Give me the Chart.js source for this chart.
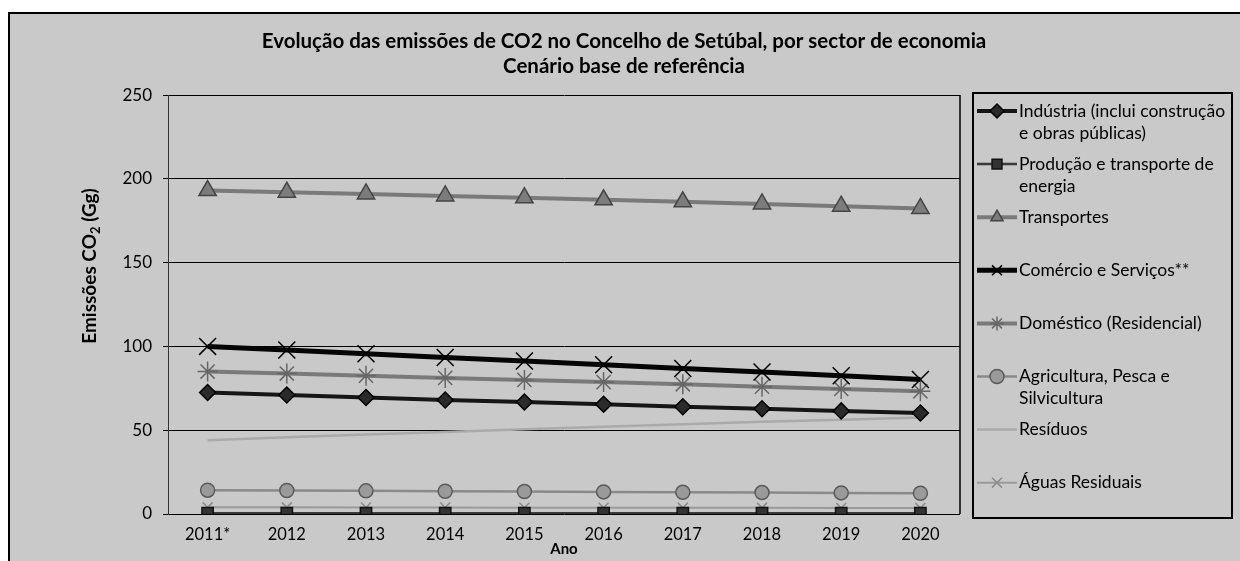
<!DOCTYPE html>
<html>
<head>
<meta charset="UTF-8" />
<title>Emissões de CO2 no Concelho de Setúbal</title>
<script src="https://cdn.jsdelivr.net/npm/chart.js"></script>
<style>
  html, body { margin: 0; padding: 0; background: #fff; }
</style>
</head>
<body>
<canvas id="co2Chart" width="1240" height="561"></canvas>
<script>
// categorias (eixo x)
const anos = ['2011*', '2012', '2013', '2014', '2015', '2016', '2017', '2018', '2019', '2020'];

// emissões por sector (Gg CO2)
const industria    = [72.5, 71.0, 69.5, 68.0, 66.8, 65.5, 64.0, 62.8, 61.5, 60.3];
const producao     = [0.5, 0.5, 0.5, 0.5, 0.5, 0.5, 0.5, 0.5, 0.5, 0.5];
const transportes  = [193.0, 192.0, 191.0, 189.8, 188.7, 187.5, 186.3, 185.0, 183.7, 182.3];
const comercio     = [100.0, 97.9, 95.6, 93.4, 91.3, 89.1, 86.8, 84.7, 82.5, 80.3];
const domestico    = [85.0, 83.8, 82.5, 81.2, 80.0, 78.7, 77.4, 76.0, 74.6, 73.2];
const agricultura  = [14.2, 14.0, 13.8, 13.6, 13.4, 13.2, 13.0, 12.8, 12.6, 12.4];
const residuos     = [44.0, 45.8, 47.5, 49.0, 50.5, 52.0, 53.5, 55.0, 56.3, 57.6];
const aguas        = [4.0, 4.0, 3.9, 3.9, 3.8, 3.8, 3.7, 3.7, 3.6, 3.6];

// nomes das séries (linhas da legenda)
const nomes = [
  ['Indústria (inclui construção', 'e obras públicas)'],
  ['Produção e transporte de', 'energia'],
  ['Transportes'],
  ['Comércio e Serviços**'],
  ['Doméstico (Residencial)'],
  ['Agricultura, Pesca e', 'Silvicultura'],
  ['Resíduos'],
  ['Águas Residuais']
];

// eixo y
const yMin = 0, yMax = 250, yStep = 50;

const FONT = 'Lato, "Open Sans", sans-serif';

function serie(i, data, cor, largura, estilo, raio, fill, borda) {
  return {
    label: nomes[i].join(' '),
    data: data,
    borderColor: cor,
    borderWidth: largura,
    pointStyle: estilo,
    pointRadius: estilo ? raio : 0,
    pointBackgroundColor: fill,
    pointBorderColor: borda,
    pointBorderWidth: 1.5,
    tension: 0,
    fill: false
  };
}

const datasets = [
  serie(0, industria,   '#161616', 4, 'rectRot',  8,  '#2a2a2a', '#000'),
  serie(1, producao,    '#3a3a3a', 2.5, 'rect',   8,  '#333',    '#111'),
  serie(2, transportes, '#7a7a7a', 4, 'triangle', 10, '#7c7c7c', '#444'),
  serie(3, comercio,    '#050505', 5, 'crossRot', 12, '#000',    '#000'),
  serie(4, domestico,   '#7a7a7a', 4, 'star',     10, '#777',    '#666'),
  serie(5, agricultura, '#8a8a8a', 2.5, 'circle', 7,  '#9a9a9a', '#5a5a5a'),
  serie(6, residuos,    '#aaaaaa', 2.5, false,    0,  '#aaaaaa', '#aaaaaa'),
  serie(7, aguas,       '#9a9a9a', 2, 'crossRot', 7,  '#8a8a8a', '#8a8a8a')
];

// fundo cinzento e moldura do gráfico
const fundo = {
  id: 'fundo',
  beforeDraw(chart) {
    const ctx = chart.ctx, w = chart.width, h = chart.height;
    ctx.save();
    ctx.fillStyle = '#fff';
    ctx.fillRect(0, 0, w, h);
    ctx.fillStyle = '#c9c9c9';
    ctx.fillRect(8, 12, w - 8, h - 12);
    ctx.strokeStyle = '#000';
    ctx.lineWidth = 2;
    ctx.beginPath();
    ctx.moveTo(9, h);
    ctx.lineTo(9, 13);
    ctx.lineTo(w, 13);
    ctx.stroke();
    ctx.restore();
  },
  beforeDatasetsDraw(chart) {
    const ctx = chart.ctx, a = chart.chartArea;
    ctx.save();
    ctx.strokeStyle = '#000';
    ctx.lineWidth = 1.5;
    ctx.beginPath();
    ctx.moveTo(a.right, a.top);
    ctx.lineTo(a.right, a.bottom);
    ctx.stroke();
    ctx.restore();
  }
};

// título do eixo y com CO2 em índice
const tituloY = {
  id: 'tituloY',
  afterDraw(chart) {
    const ctx = chart.ctx;
    ctx.save();
    ctx.translate(90, 266);
    ctx.rotate(-Math.PI / 2);
    ctx.fillStyle = '#000';
    ctx.textBaseline = 'middle';
    const big = 'bold 19px ' + FONT, small = 'bold 13px ' + FONT;
    ctx.font = big;
    const a = 'Emissões CO', c = ' (Gg)';
    const wa = ctx.measureText(a).width, wc = ctx.measureText(c).width;
    ctx.font = small;
    const wb = ctx.measureText('2').width;
    let x = -(wa + wb + wc) / 2;
    ctx.font = big;
    ctx.fillText(a, x, 0);
    x += wa;
    ctx.font = small;
    ctx.fillText('2', x, 6);
    x += wb;
    ctx.font = big;
    ctx.fillText(c, x, 0);
    ctx.restore();
  }
};

// legenda à direita, em caixa
const legenda = {
  id: 'legenda',
  afterDraw(chart) {
    const ctx = chart.ctx;
    const bx = 973, by = 93, bw = 259, bh = 425;
    ctx.save();
    ctx.strokeStyle = '#000';
    ctx.lineWidth = 2;
    ctx.strokeRect(bx, by, bw, bh);
    ctx.font = '17.5px ' + FONT;
    ctx.textBaseline = 'middle';
    chart.data.datasets.forEach((ds, i) => {
      const y = 111 + i * 53.1;
      ctx.strokeStyle = ds.borderColor;
      ctx.lineWidth = ds.borderWidth;
      ctx.beginPath();
      ctx.moveTo(977, y);
      ctx.lineTo(1017, y);
      ctx.stroke();
      if (ds.pointStyle) {
        ctx.fillStyle = ds.pointBackgroundColor;
        ctx.strokeStyle = ds.pointBorderColor;
        ctx.lineWidth = ds.pointBorderWidth;
        Chart.helpers.drawPoint(ctx, {
          pointStyle: ds.pointStyle,
          radius: Math.min(ds.pointRadius, 7),
          rotation: 0,
          borderWidth: ds.pointBorderWidth
        }, 997, y);
      }
      ctx.fillStyle = '#000';
      nomes[i].forEach((linha, k) => ctx.fillText(linha, 1019, y + k * 22));
    });
    ctx.restore();
  }
};

new Chart(document.getElementById('co2Chart'), {
  type: 'line',
  data: { labels: anos, datasets: datasets },
  plugins: [fundo, tituloY, legenda],
  options: {
    responsive: false,
    animation: false,
    devicePixelRatio: 1,
    layout: { padding: { left: 8, top: 12, right: 0, bottom: 0 } },
    plugins: {
      legend: { display: false },
      tooltip: { enabled: false },
      title: {
        display: true,
        text: ['Evolução das emissões de CO2 no Concelho de Setúbal, por sector de economia',
               'Cenário base de referência'],
        color: '#000',
        font: { family: FONT, size: 20.5, weight: 'bold', lineHeight: 1.22 },
        padding: { top: 17, bottom: 16 }
      }
    },
    scales: {
      x: {
        offset: true,
        grid: { display: false },
        border: { display: false },
        ticks: { color: '#000', font: { family: FONT, size: 16.5 }, padding: 3, maxRotation: 0 },
        title: {
          display: true, text: 'Ano', color: '#000',
          font: { family: FONT, size: 15, weight: 'bold' },
          padding: { top: 0, bottom: 3 }
        },
        afterFit(s) { s.height = 47; }
      },
      y: {
        min: yMin, max: yMax,
        ticks: { stepSize: yStep, color: '#000', font: { family: FONT, size: 17 }, padding: 11 },
        grid: { color: '#000', lineWidth: 1, tickLength: 5, tickColor: '#000' },
        border: { display: true, color: '#333', width: 1 },
        afterFit(s) { s.width = 160; }
      },
      espaco: {
        position: 'right',
        display: true,
        ticks: { display: false },
        grid: { display: false, drawTicks: false },
        border: { display: false },
        afterFit(s) { s.width = 280; }
      }
    }
  }
});
</script>
</body>
</html>
